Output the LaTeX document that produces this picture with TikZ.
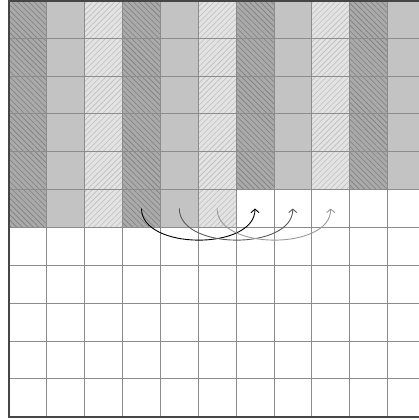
\documentclass[tikz,border=0pt]{standalone}
\usetikzlibrary{patterns.meta,arrows.meta}
\definecolor{darkfill}{HTML}{AAAAAA}
\definecolor{darkhatch}{HTML}{7E7E7E}
\definecolor{medfill}{HTML}{C3C3C3}
\definecolor{lightfill}{HTML}{E3E3E3}
\definecolor{lighthatch}{HTML}{BDBDBD}
\definecolor{gridcol}{HTML}{8C8C8C}
\definecolor{framecol}{HTML}{464646}
\tikzset{
  darkcell/.style={fill=darkfill, postaction={pattern={Lines[angle=-45,distance=3.9pt,line width=0.6pt]}, pattern color=darkhatch}},
  medcell/.style={fill=medfill},
  lightcell/.style={fill=lightfill, postaction={pattern={Lines[angle=45,distance=3.9pt,line width=0.6pt]}, pattern color=lighthatch}},
  gridline/.style={draw=gridcol, line width=0.9pt},
  frameline/.style={draw=framecol, line width=2pt},
  jump/.style={line width=0.9pt, -{Straight Barb[length=3.5pt,width=8pt]}}
}
\begin{document}
\begin{tikzpicture}[x=1pt,y=-1pt]
\useasboundingbox (0,0) rectangle (419,420);
\def\c{37.85}
\begin{scope}
\clip (0,0) rectangle (419,420);
% dark hatched columns
\foreach \i in {0,3,6,9} {
  \pgfmathsetmacro\xa{9+\i*\c}
  \pgfmathsetmacro\xb{9+(\i+1)*\c}
  \pgfmathsetmacro\yb{(\i<6) ? 0.3+6*\c : 0.3+5*\c}
  \path[darkcell] (\xa,0.3) rectangle (\xb,\yb);
}
% medium columns
\foreach \i in {1,4,7,10} {
  \pgfmathsetmacro\xa{9+\i*\c}
  \pgfmathsetmacro\xb{9+(\i+1)*\c}
  \pgfmathsetmacro\yb{(\i<6) ? 0.3+6*\c : 0.3+5*\c}
  \path[medcell] (\xa,0.3) rectangle (\xb,\yb);
}
% light hatched columns
\foreach \i in {2,5,8} {
  \pgfmathsetmacro\xa{9+\i*\c}
  \pgfmathsetmacro\xb{9+(\i+1)*\c}
  \pgfmathsetmacro\yb{(\i<6) ? 0.3+6*\c : 0.3+5*\c}
  \path[lightcell] (\xa,0.3) rectangle (\xb,\yb);
}
% grid
\foreach \i in {0,...,11} {
  \pgfmathsetmacro\xx{9+\i*\c}
  \draw[gridline] (\xx,0.3) -- (\xx,416.8);
}
\foreach \j in {0,...,11} {
  \pgfmathsetmacro\yy{0.3+\j*\c}
  \draw[gridline] (9,\yy) -- (440,\yy);
}
% frame
\draw[frameline] (440,0.8) -- (9,0.8) -- (9,416.8) -- (440,416.8);
\end{scope}
% arrow end points (row 6 cell centres)
\coordinate (s3) at (141.5,208.5);
\coordinate (s4) at (179.3,208.5);
\coordinate (s5) at (217.1,208.5);
\coordinate (e6) at (255.0,208.5);
\coordinate (e7) at (292.8,208.5);
\coordinate (e8) at (330.7,208.5);
\draw[jump, black] (s3) .. controls +(0,42) and +(0,42) .. (e6);
\draw[jump, black!65] (s4) .. controls +(0,42) and +(0,42) .. (e7);
\draw[jump, black!40] (s5) .. controls +(0,42) and +(0,42) .. (e8);
\end{tikzpicture}
\end{document}
